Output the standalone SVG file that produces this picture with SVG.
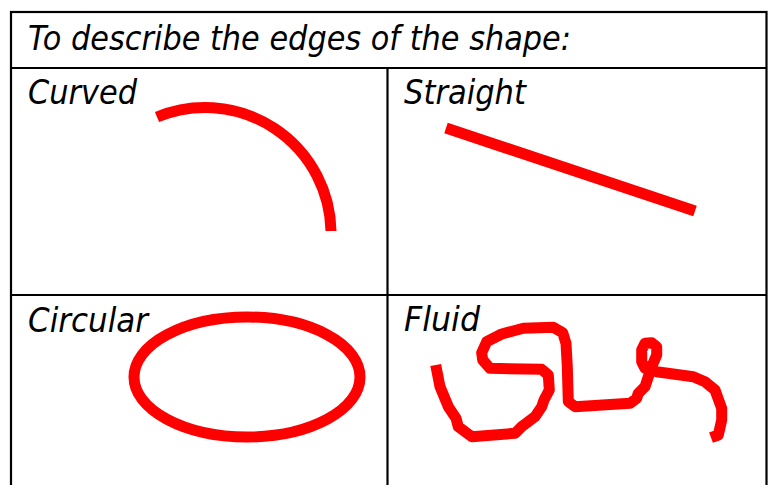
<svg xmlns="http://www.w3.org/2000/svg" width="773" height="485" viewBox="0 0 773 485">
<style>
.grid{fill:none;stroke:#000;stroke-width:2.2}
.lbl{font-family:"DejaVu Sans","Liberation Sans",sans-serif;font-style:italic;font-size:34px;fill:#000}
.red{fill:none;stroke:#ff0000;stroke-width:11}
</style>
<rect width="773" height="485" fill="#fff"/>
<g id="table">
<rect class="grid" x="11" y="12" width="755.5" height="480"/>
<line class="grid" x1="11" y1="68" x2="766.5" y2="68"/>
<line class="grid" x1="11" y1="295" x2="766.5" y2="295"/>
<line class="grid" x1="387.5" y1="68" x2="387.5" y2="485"/>
</g>
<g id="header"><text class="lbl" x="28" y="50" textLength="543" lengthAdjust="spacingAndGlyphs">To describe the edges of the shape:</text></g>
<g id="curved">
<text class="lbl" x="28" y="104" textLength="109" lengthAdjust="spacingAndGlyphs">Curved</text>
<path class="red" d="M157,117 A126,126 0 0 1 331,231"/>
</g>
<g id="straight">
<text class="lbl" x="404" y="104" textLength="122" lengthAdjust="spacingAndGlyphs">Straight</text>
<line class="red" x1="446" y1="128" x2="695" y2="211"/>
</g>
<g id="circular">
<text class="lbl" x="28" y="332" textLength="120" lengthAdjust="spacingAndGlyphs">Circular</text>
<ellipse class="red" cx="247" cy="377" rx="113" ry="60"/>
</g>
<g id="fluid">
<text class="lbl" x="404" y="331" textLength="76" lengthAdjust="spacingAndGlyphs">Fluid</text>
<path class="red" stroke-linejoin="round" d="M435.7,365 L440,386.7 L448.3,406.7 L456,418.3 L458.3,426.7 L471.7,436.7 L515,433.3 L521.7,426.7 L535,416.7 L541.7,406.7 L544,400 L549.3,390 L548.3,375 L541.7,369.3 L490,368.3 L482.7,360 L481.7,352.7 L486.7,341.7 L501.7,334 L523.3,328.3 L553.3,327.3 L562.7,332.7 L566,343.3 L567.3,366.7 L568.3,401.7 L575,406.7 L630,403.3 L636.7,398.3 L638.3,393.3 L645,386.7 L648.3,376.7 L651.7,366.7 L656.7,355 L656.7,346.7 L651.7,342.7 L645,343.3 L641.7,350 L641.7,361.7 L645,368.3 L656.7,371.7 L693.3,376.7 L705,381.7 L715,390 L721.7,408.3 L721.7,420 L718.3,435 L711,437.7"/>
</g>
</svg>
